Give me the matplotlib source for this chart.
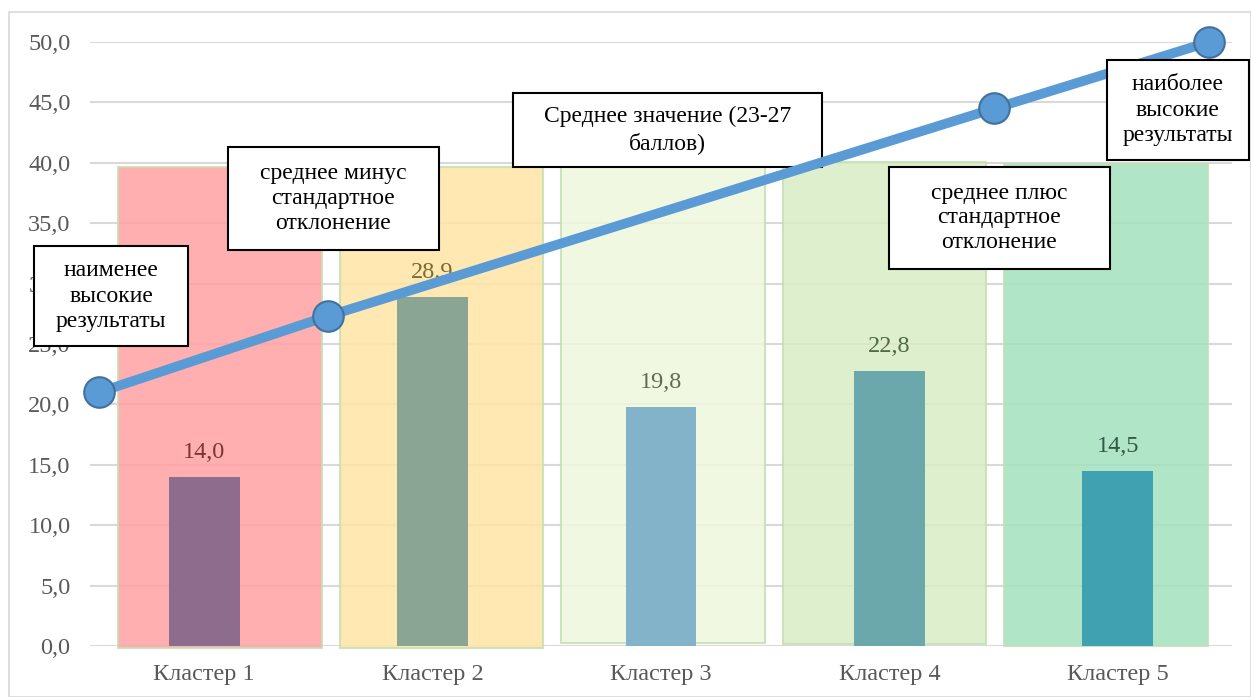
import numpy as np
import matplotlib
matplotlib.use("Agg")
import matplotlib.pyplot as plt
from matplotlib.patches import Rectangle

plt.rcParams['font.family'] = ['Liberation Serif', 'DejaVu Serif']

# data
clusters = ['Кластер 1', 'Кластер 2', 'Кластер 3', 'Кластер 4', 'Кластер 5']
values = [14.0, 28.9, 19.8, 22.8, 14.5]
value_labels = ['14,0', '28.9', '19,8', '22,8', '14,5']
bg_bottom = [-0.17, -0.17, 0.25, 0.2, 0.0]
bg_top = [39.65, 39.65, 40.15, 40.05, 39.9]
line_x = [-0.46, 0.54, 3.46, 4.40]
line_y = [21.0, 27.3, 44.5, 50.0]
yticks = np.arange(0, 51, 5)
ytick_labels = [('%.1f' % v).replace('.', ',') for v in yticks]
box_texts = ['наименее\nвысокие\nрезультаты',
             'среднее минус\nстандартное\nотклонение',
             'Среднее значение (23-27\nбаллов)',
             'среднее плюс\nстандартное\nотклонение',
             'наиболее\nвысокие\nрезультаты']

# styles
bar_colors = ['#8E6C8E', '#8AA593', '#82B3C8', '#6AA8AC', '#40A1B0']
bg_colors = ['#FFA1A1', '#FFE4A4', '#EFF7DD', '#D8EDC3', '#A3E1BE']
label_colors = ['#7A3535', '#7A6A35', '#5F6A55', '#4F6A45', '#2F5A45']
# boxes in pixels: left, top, right, bottom
box_px = [(34, 246, 188, 346), (228, 147, 439, 250), (513, 93, 822, 167),
          (889, 167, 1110, 269), (1107, 60, 1249, 160)]
box_z = [6, 6, 4, 6, 6]

W, H = 1251, 697
fig = plt.figure(figsize=(W / 100, H / 100), dpi=100)
ax = fig.add_axes([90 / W, (H - 646) / H, 1142 / W, 604 / H])
ax.set_xlim(-0.5, 4.5)
ax.set_ylim(0, 50)

x = np.arange(len(clusters))
ax.set_yticks(yticks)
ax.set_yticklabels(ytick_labels)
ax.set_xticks(x)
ax.set_xticklabels(clusters)
ax.tick_params(axis='y', length=0, pad=14, labelsize=17.5, labelcolor='#595959')
ax.tick_params(axis='x', length=0, pad=13, labelsize=17.5, labelcolor='#595959')
ax.grid(axis='y', color='#D9D9D9', lw=1.5, zorder=0)
ax.set_axisbelow(True)
for s in ax.spines.values():
    s.set_visible(False)

# background bars on a secondary category scale
ax2 = ax.twiny()
ax2.set_xlim(-0.587, 4.569)
ax2.set_ylim(0, 50)
ax2.axis('off')
ax2.bar(x, np.array(bg_top) - np.array(bg_bottom), bottom=bg_bottom, width=0.92,
        color=bg_colors, alpha=0.85, edgecolor='#C5E0B4', lw=1.5, zorder=2, clip_on=False)

ax3 = ax.twiny()
ax3.set_xlim(-0.5, 4.5)
ax3.set_ylim(0, 50)
ax3.axis('off')
ax3.bar(x, values, width=0.31, color=bar_colors, zorder=3)
for xi, v, lab, c in zip(x, values, value_labels, label_colors):
    ax3.annotate(lab, (xi, v), xytext=(0, 10), textcoords='offset points',
                 ha='center', va='bottom', fontsize=17.5, color=c, zorder=3)

ax3.plot(line_x, line_y, color='#5B9BD5', lw=7, marker='o', markersize=22,
         markerfacecolor='#5B9BD5', markeredgecolor='#41719C', markeredgewidth=1.5,
         zorder=5, clip_on=False)

for (l, t, r, b), txt, z in zip(box_px, box_texts, box_z):
    ax3.add_patch(Rectangle((l / W, 1 - b / H), (r - l) / W, (b - t) / H,
                            transform=fig.transFigure, facecolor='white',
                            edgecolor='black', lw=1.5, zorder=z, clip_on=False))
    ax3.text((l + r) / 2 / W, 1 - (t + b) / 2 / H, txt, transform=fig.transFigure,
             ha='center', va='center', fontsize=17, color='black',
             linespacing=1.25, zorder=z + 0.5, clip_on=False)

# chart border
fig.patches.append(Rectangle((9 / W, 0), 1 - 9 / W, 1 - 12 / H, transform=fig.transFigure,
                             fill=False, edgecolor='#D9D9D9', lw=1.2))

fig.savefig('out.png', dpi=100)
